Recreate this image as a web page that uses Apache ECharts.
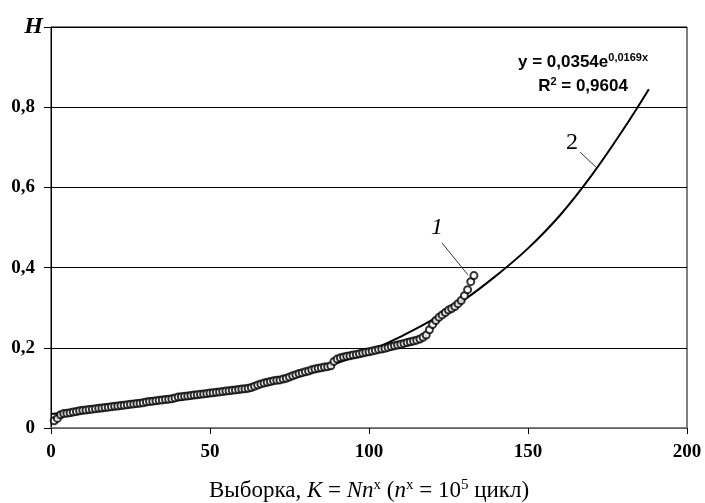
<!DOCTYPE html>
<html>
<head>
<meta charset="utf-8">
<script src="https://cdn.jsdelivr.net/npm/echarts@6/dist/echarts.min.js"></script>
<style>html,body{margin:0;padding:0;background:#fff}#c{width:705px;height:503px}</style>
</head>
<body>
<div id="c"></div>
<script>
// Sample index (cycle blocks) and measured H values (series 1)
const sampleX = Array.from({length:133},(_,i)=>i+1);
const hValues = [
0.018,0.024,0.033,0.036,0.037,0.038,0.040,0.041,0.043,0.044,
0.045,0.046,0.047,0.048,0.049,0.050,0.051,0.052,0.053,0.054,
0.055,0.056,0.057,0.058,0.059,0.060,0.061,0.062,0.063,0.065,
0.066,0.067,0.068,0.069,0.070,0.071,0.072,0.073,0.075,0.077,
0.078,0.079,0.080,0.081,0.082,0.083,0.084,0.085,0.086,0.087,
0.088,0.089,0.090,0.091,0.092,0.093,0.094,0.095,0.096,0.097,
0.098,0.099,0.101,0.104,0.107,0.110,0.112,0.114,0.116,0.118,
0.119,0.120,0.122,0.124,0.127,0.130,0.133,0.136,0.138,0.140,
0.142,0.145,0.147,0.149,0.150,0.152,0.153,0.155,0.166,0.172,
0.175,0.177,0.179,0.180,0.182,0.183,0.185,0.187,0.189,0.190,
0.192,0.194,0.196,0.197,0.199,0.201,0.203,0.205,0.207,0.209,
0.211,0.213,0.215,0.217,0.219,0.222,0.226,0.232,0.245,0.258,
0.268,0.276,0.282,0.288,0.294,0.298,0.303,0.310,0.318,0.330,
0.345,0.365,0.380
];
// Exponential trend (series 2)
const trendX = [0,10,20,30,40,50,60,70,80,90,100,110,120,130,140,150,160,170,180,188];
const trendY = [0.035,0.042,0.050,0.059,0.070,0.082,0.097,0.116,0.137,0.162,0.192,0.228,0.270,0.320,0.380,0.448,0.530,0.630,0.745,0.845];
const xTicks = [0,50,100,150,200];
const yTickLabels = {0:'0',0.2:'0,2',0.4:'0,4',0.6:'0,6',0.8:'0,8'};
const eqLine1 = 'y = 0,0354e';
const eqExp = '0,0169x';
const eqLine2 = ' = 0,9604';

const serif = '"Liberation Serif","Times New Roman",serif';
const chart = echarts.init(document.getElementById('c'));
chart.setOption({
  animation:false,
  backgroundColor:'#fff',
  grid:{left:51,right:18,top:27,bottom:75,outerBoundsMode:'none',containLabel:false,show:true,borderColor:'#000',borderWidth:1,backgroundColor:'transparent'},
  xAxis:{
    type:'value',min:0,max:200,interval:50,
    axisLine:{lineStyle:{color:'#808080',width:1.5}},
    axisTick:{show:true,length:6,lineStyle:{color:'#000'}},
    splitLine:{show:false},
    axisLabel:{color:'#000',fontFamily:serif,fontSize:19,fontWeight:'bold',margin:15},
    name:'{r|Выборка, }{i|K}{r| = }{i|Nn}{s|x}{r| (}{i|n}{s|x}{r| = 10}{s|5}{r| цикл)}',
    nameLocation:'middle',nameGap:50,
    nameTextStyle:{rich:{
      r:{fontFamily:serif,fontSize:23,color:'#000'},
      i:{fontFamily:serif,fontSize:23,fontStyle:'italic',color:'#000'},
      s:{fontFamily:serif,fontSize:15,color:'#000',verticalAlign:'top',padding:[0,0,11,0]}
    }}
  },
  yAxis:{
    type:'value',min:0,max:1,interval:0.2,
    axisLine:{show:true,lineStyle:{color:'#000',width:1}},
    axisTick:{show:true,length:7,lineStyle:{color:'#000'}},
    splitLine:{show:true,lineStyle:{color:'#000',width:1}},
    axisLabel:{color:'#000',fontFamily:serif,fontSize:19,fontWeight:'bold',margin:16,
      formatter:function(v){
        const k=Math.round(v*10)/10;
        if(Math.abs(v-1)<1e-6) return '{h|H}';
        return yTickLabels[k]!==undefined?yTickLabels[k]:'';
      },
      rich:{h:{fontFamily:serif,fontSize:24,fontStyle:'italic',fontWeight:'bold',color:'#000',padding:[0,-8,0,0]}}
    }
  },
  series:[
    {
      type:'line',name:'2',data:trendX.map((x,i)=>[x,trendY[i]]),
      smooth:0.4,showSymbol:false,lineStyle:{color:'#000',width:2},z:3
    },
    {
      type:'scatter',name:'1',data:sampleX.map((x,i)=>[x,hValues[i]]),
      symbol:'emptyCircle',symbolSize:7,
      itemStyle:{color:'#000',borderColor:'#000',borderWidth:3},z:4
    }
  ]
});

function px(x,y){return chart.convertToPixel({gridIndex:0},[x,y]);}
const a1=px(121.4,0.499), l1a=px(123,0.461), l1b=px(131.1,0.382);
const a2=px(163.8,0.711), l2a=px(166.4,0.688), l2b=px(171.7,0.648);
const e1=px(167.3,0.913), e2=px(167.3,0.853);
const sans='"Liberation Sans",Arial,sans-serif';
chart.setOption({graphic:[
  {type:'text',x:a1[0],y:a1[1],style:{text:'1',font:'italic 24px '+serif,fill:'#000',textAlign:'center',textVerticalAlign:'middle'}},
  {type:'line',shape:{x1:l1a[0],y1:l1a[1],x2:l1b[0],y2:l1b[1]},style:{stroke:'#333',lineWidth:1}},
  {type:'text',x:a2[0],y:a2[1],style:{text:'2',font:'24px '+serif,fill:'#000',textAlign:'center',textVerticalAlign:'middle'}},
  {type:'line',shape:{x1:l2a[0],y1:l2a[1],x2:l2b[0],y2:l2b[1]},style:{stroke:'#333',lineWidth:1}},
  {type:'text',x:e1[0],y:e1[1],style:{
    text:'{b|'+eqLine1+'}{s|'+eqExp+'}',textAlign:'center',textVerticalAlign:'middle',
    rich:{b:{font:'bold 17px '+sans,fill:'#000'},s:{font:'bold 11px '+sans,fill:'#000',verticalAlign:'top',padding:[0,0,8,0]}}
  }},
  {type:'text',x:e2[0],y:e2[1],style:{
    text:'{b|R}{s|2}{b|'+eqLine2+'}',textAlign:'center',textVerticalAlign:'middle',
    rich:{b:{font:'bold 17px '+sans,fill:'#000'},s:{font:'bold 11px '+sans,fill:'#000',verticalAlign:'top',padding:[0,0,8,0]}}
  }}
]});
</script>
</body>
</html>
